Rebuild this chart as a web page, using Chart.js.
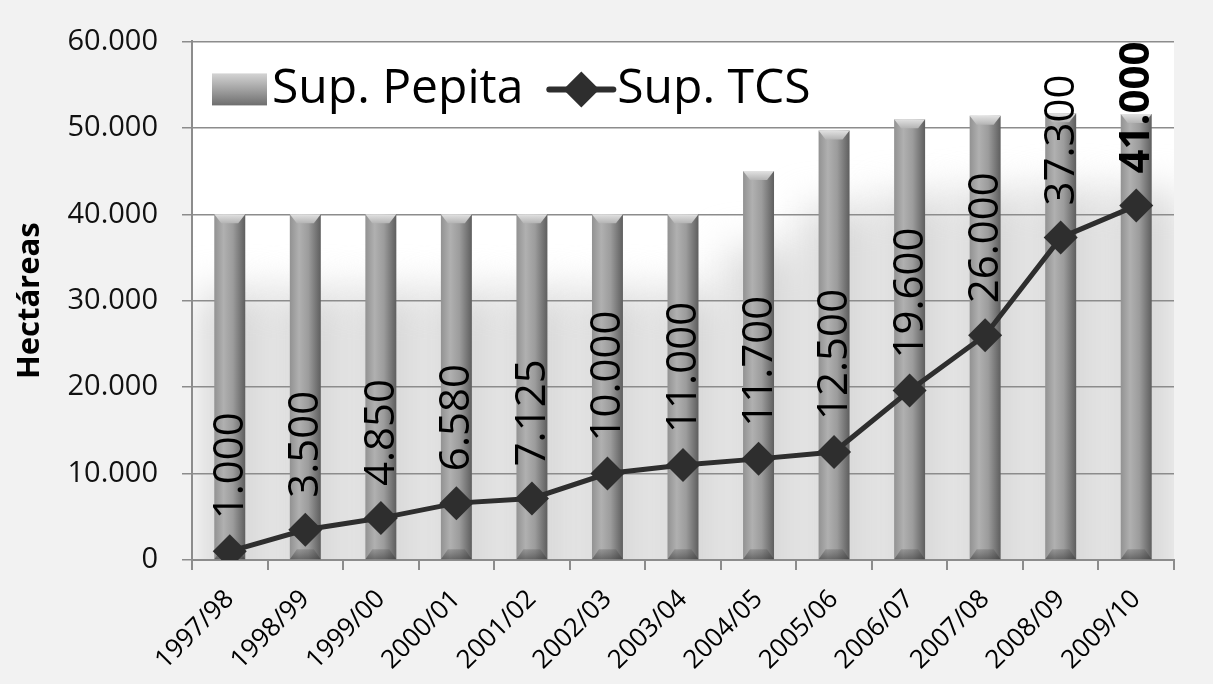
<!DOCTYPE html>
<html>
<head>
<meta charset="utf-8">
<script src="https://cdn.jsdelivr.net/npm/chart.js@4.4.0/dist/chart.umd.min.js"></script>
<style>
  html,body{margin:0;padding:0;background:#f2f2f2;}
  #wrap{width:1213px;height:684px;}
</style>
</head>
<body>
<div id="wrap"><canvas id="chart" width="1213" height="684"></canvas></div>
<script>
// data
const seasons = ["1997/98","1998/99","1999/00","2000/01","2001/02","2002/03","2003/04",
                 "2004/05","2005/06","2006/07","2007/08","2008/09","2009/10"];
const supPepita = [40000,40000,40000,40000,40000,40000,40000,45000,49700,51000,51400,51700,51600];
const supTCS = [1000,3500,4850,6580,7125,10000,11000,11700,12500,19600,26000,37300,41000];
const yMin = 0, yMax = 60000, yStep = 10000;

const FONT = "'Open Sans', 'DejaVu Sans', sans-serif";
const LINE_COL = "#2e2e2e";

function fmt(v){
  return String(v).replace(/\B(?=(\d{3})+(?!\d))/g, ".");
}

// white plot area + soft shadow behind the bars
const backPlugin = {
  id: "back",
  beforeDraw(chart){
    const {ctx, chartArea:a} = chart;
    ctx.save();
    ctx.fillStyle = "#ffffff";
    ctx.fillRect(a.left, a.top, a.right - a.left, a.bottom - a.top);
    ctx.beginPath();
    ctx.rect(a.left, a.top, a.right - a.left, a.bottom - a.top);
    ctx.clip();
    ctx.filter = "blur(20px)";
    ctx.fillStyle = "#d8d8d8";
    const bars = chart.getDatasetMeta(0).data;
    const cw = (a.right - a.left) / seasons.length;
    bars.forEach(b=>{
      ctx.fillRect(b.x - cw/2 + 6, b.y + 78, cw, a.bottom - b.y);
    });
    ctx.restore();
  }
};

// cylinder look for bars
const barPlugin = {
  id: "barLook",
  beforeDatasetsDraw(chart){
    const ctx = chart.ctx;
    chart.getDatasetMeta(0).data.forEach(b=>{
      const l = b.x - b.width/2, r = b.x + b.width/2;
      const g = ctx.createLinearGradient(l, 0, r, 0);
      g.addColorStop(0, "#929292");
      g.addColorStop(0.3, "#b0b0b0");
      g.addColorStop(0.6, "#9c9c9c");
      g.addColorStop(1, "#5e5e5e");
      b.options.backgroundColor = g;
    });
  },
  afterDatasetDraw(chart, args){
    if(args.index !== 0) return;
    const ctx = chart.ctx;
    chart.getDatasetMeta(0).data.forEach(b=>{
      const l = b.x - b.width/2, r = b.x + b.width/2;
      ctx.save();
      // top cap
      let g = ctx.createLinearGradient(0, b.y, 0, b.y + 9);
      g.addColorStop(0, "#e2e2e2");
      g.addColorStop(1, "#b4b4b4");
      ctx.fillStyle = g;
      ctx.beginPath();
      ctx.moveTo(l, b.y); ctx.lineTo(r, b.y);
      ctx.lineTo(r - 7, b.y + 9); ctx.lineTo(l + 7, b.y + 9);
      ctx.closePath();
      ctx.fill();
      // bottom shade
      g = ctx.createLinearGradient(0, b.base - 12, 0, b.base);
      g.addColorStop(0, "rgba(80,80,80,0.2)");
      g.addColorStop(1, "rgba(60,60,60,0.6)");
      ctx.fillStyle = g;
      ctx.beginPath();
      ctx.moveTo(l, b.base); ctx.lineTo(l + 7, b.base - 10);
      ctx.lineTo(r - 7, b.base - 10); ctx.lineTo(r, b.base);
      ctx.closePath();
      ctx.fill();
      ctx.restore();
    });
  }
};

// rotated value labels above the TCS points
const labelPlugin = {
  id: "valueLabels",
  afterDatasetsDraw(chart){
    const ctx = chart.ctx;
    const pts = chart.getDatasetMeta(1).data;
    ctx.save();
    ctx.fillStyle = "#000";
    ctx.textAlign = "left";
    ctx.textBaseline = "middle";
    pts.forEach((p, i)=>{
      const last = i === pts.length - 1;
      ctx.font = (last ? "bold " : "") + "42px " + FONT;
      ctx.save();
      ctx.translate(p.x + 1, p.y - 32);
      ctx.rotate(-Math.PI/2);
      ctx.fillText(fmt(supTCS[i]), 0, 0);
      ctx.restore();
    });
    ctx.restore();
  }
};

// legend inside the plot, top-left
const legendPlugin = {
  id: "innerLegend",
  afterDraw(chart){
    const {ctx, chartArea:a} = chart;
    const ds = chart.data.datasets;
    const cy = a.top + 48;
    let x = a.left + 20;
    ctx.save();
    ctx.font = "48px " + FONT;
    ctx.textBaseline = "middle";
    ctx.textAlign = "left";
    // bar item
    let g = ctx.createLinearGradient(0, cy - 16, 0, cy + 16);
    g.addColorStop(0, "#d4d4d4");
    g.addColorStop(0.5, "#a2a2a2");
    g.addColorStop(1, "#6e6e6e");
    ctx.fillStyle = g;
    ctx.fillRect(x, cy - 16, 55, 32);
    ctx.fillStyle = "#000";
    x += 60;
    ctx.fillText(ds[0].label, x, cy);
    x += ctx.measureText(ds[0].label).width + 26;
    // line item
    ctx.strokeStyle = LINE_COL;
    ctx.lineWidth = 6;
    ctx.lineCap = "round";
    ctx.beginPath();
    ctx.moveTo(x, cy); ctx.lineTo(x + 64, cy);
    ctx.stroke();
    ctx.fillStyle = LINE_COL;
    const cx = x + 32, r = 18;
    ctx.beginPath();
    ctx.moveTo(cx, cy - r); ctx.lineTo(cx + r, cy); ctx.lineTo(cx, cy + r); ctx.lineTo(cx - r, cy);
    ctx.closePath();
    ctx.fill();
    ctx.fillStyle = "#000";
    ctx.fillText(ds[1].label, x + 68, cy);
    ctx.restore();
  }
};

new Chart(document.getElementById("chart"), {
  type: "bar",
  data: {
    labels: seasons,
    datasets: [
      {
        type: "bar",
        label: "Sup. Pepita",
        data: supPepita,
        backgroundColor: () => "#9c9c9c", // scriptable so each bar gets its own options
        borderWidth: 0,
        barPercentage: 0.41,
        categoryPercentage: 1,
        order: 2
      },
      {
        type: "line",
        label: "Sup. TCS",
        data: supTCS,
        borderColor: LINE_COL,
        backgroundColor: LINE_COL,
        borderWidth: 5,
        tension: 0,
        pointStyle: "rectRot",
        pointRadius: 17,
        pointBackgroundColor: LINE_COL,
        pointBorderWidth: 0,
        order: 1
      }
    ]
  },
  options: {
    responsive: false,
    animation: false,
    devicePixelRatio: 1,
    layout: { padding: { top: 38, right: 39, left: 0, bottom: 0 } },
    plugins: {
      tooltip: { enabled: false },
      legend: { display: false }
    },
    scales: {
      x: {
        grid: { drawOnChartArea: false, drawTicks: true, tickLength: 10, color: "#8c8c8c", lineWidth: 2 },
        border: { color: "#8c8c8c", width: 2 },
        ticks: { color: "#000", maxRotation: 45, minRotation: 45, padding: 14, font: { family: FONT, size: 26 } },
        afterFit(scale){ scale.height = 124; }
      },
      y: {
        min: yMin,
        max: yMax,
        grid: { color: "#8c8c8c", lineWidth: 1.5, tickLength: 10 },
        border: { color: "#8c8c8c", width: 2 },
        ticks: {
          stepSize: yStep,
          color: "#111",
          padding: 24,
          font: { family: FONT, size: 29 },
          callback: v => fmt(v)
        },
        title: {
          display: true,
          text: "Hectáreas",
          color: "#000",
          font: { family: FONT, size: 31, weight: "bold" },
          padding: { top: 12, bottom: 0 }
        },
        afterFit(scale){ scale.width = 192; }
      }
    }
  },
  plugins: [backPlugin, barPlugin, labelPlugin, legendPlugin]
});
</script>
</body>
</html>
